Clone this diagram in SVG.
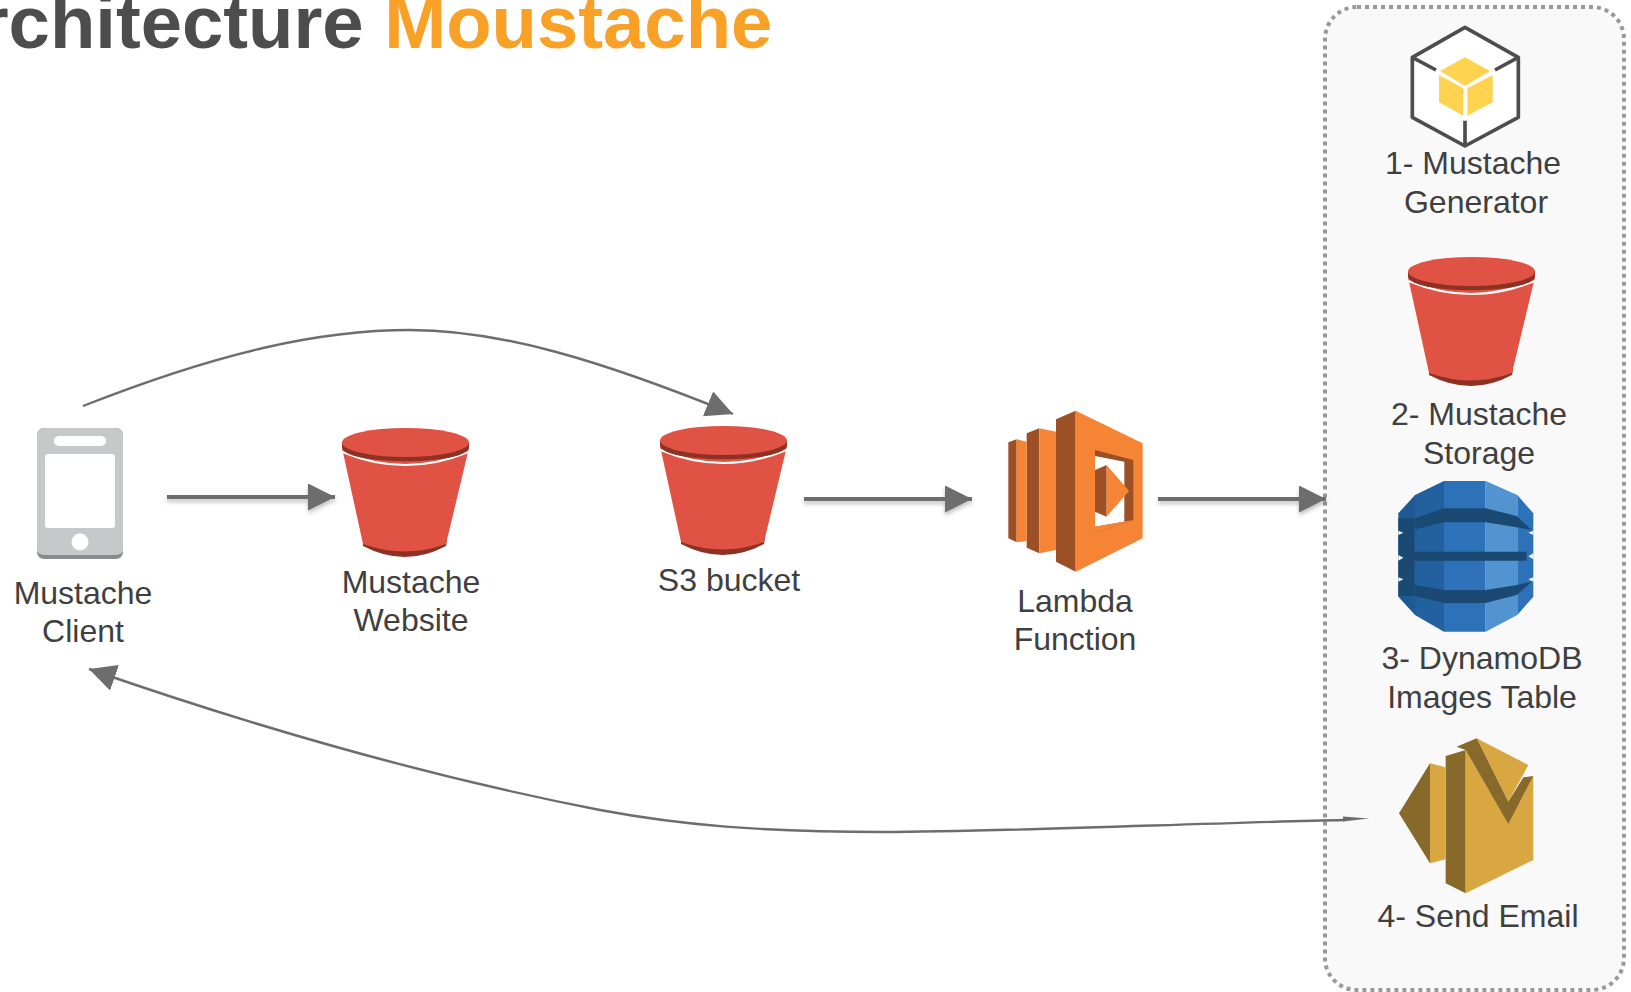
<svg xmlns="http://www.w3.org/2000/svg" xmlns:xlink="http://www.w3.org/1999/xlink" width="1631" height="992" viewBox="0 0 1631 992">
<style>
text{font-family:"Liberation Sans",Arial,sans-serif}
.lbl{font-size:32px;fill:#3f3f3f;text-anchor:middle}
.title{font-size:74.3px;font-weight:bold}
.conn{fill:none;stroke:#6d6d6d}
.straight{stroke-width:4;marker-end:url(#arrow);filter:url(#sh)}
.curve{stroke-width:2.400;marker-end:url(#arrow)}
</style>
<defs>
<marker id="arrow" markerUnits="userSpaceOnUse" markerWidth="27" markerHeight="27" viewBox="0 0 26 26" refX="26" refY="13" orient="auto"><path d="M0,0L26,13L0,26Z" fill="#6d6d6d"/></marker>
<filter id="sh" filterUnits="userSpaceOnUse" x="0" y="400" width="1631" height="200"><feDropShadow dx="0" dy="3" stdDeviation="2" flood-color="#000" flood-opacity=".25"/></filter>
<g id="bucket">
<path d="M21,112Q63,125 105,112L104,118Q63,140 21,118Z" fill="#8c3123"/>
<path d="M0,20L21,116Q63,131 104,116L127,20Z" fill="#e05243"/>
<path d="M0.500,24Q63,50 126.500,24" fill="none" stroke="#fff" stroke-width="2.200"/>
<path d="M0,14V19C0,38 127,38 127,19V14Z" fill="#8c3123"/>
<ellipse cx="63.500" cy="14.500" rx="63.500" ry="14.500" fill="#e05243"/>
</g>
</defs>
<text class="title" x="-74" y="48" fill="#4d4d4d">Architecture <tspan fill="#f9a127">Moustache</tspan></text>
<g id="group-panel"><rect x="1325" y="7" width="299" height="983" rx="32" fill="#f9f9f9" stroke="#999" stroke-width="4" stroke-dasharray="4 4"/></g>
<g id="connectors">
<path class="conn straight" d="M167,497H335"/>
<path class="conn straight" d="M804,499H972"/>
<path class="conn straight" d="M1158,499H1326"/>
<path class="conn curve" d="M83,406C220,352 320,330 410,330C500,330 600,360 733,414"/>
<path class="conn curve" d="M1345,820C1200,823 1000,832 884,832C760,832 680,825 600,810C420,775 250,725 89,669"/>
<path d="M1343,816.500L1369,818.500L1343,821.500Z" fill="#6d6d6d"/>
</g>
<g id="client">
<rect x="37" y="428" width="86" height="131" rx="7" fill="#8a8b8d"/>
<path d="M37,435a7,7 0 0 1 7,-7h72a7,7 0 0 1 7,7v115q0,4 -7,5h-72q-7,-1 -7,-5z" fill="#c7c8ca"/>
<rect x="54" y="436" width="52" height="10" rx="5" fill="#fff"/>
<rect x="45" y="454" width="70" height="74" rx="3" fill="#fff"/>
<circle cx="80" cy="542" r="8.500" fill="#fff"/>
<text class="lbl" x="83" y="604">Mustache</text><text class="lbl" x="83" y="642">Client</text>
</g>
<g id="website"><use href="#bucket" x="342" y="428"/>
<text class="lbl" x="411" y="593">Mustache</text><text class="lbl" x="411" y="631">Website</text></g>
<g id="s3"><use href="#bucket" x="660" y="426"/>
<text class="lbl" x="729" y="591">S3 bucket</text></g>
<g id="lambda">
<g transform="translate(960,380) scale(.33333)">
<path d="M145,187L170,178V487L145,475Z M200,160L238,145V520L200,503Z M288,118L347,92V575L288,545Z" fill="#9d5025"/>
<path d="M170,178L200,185V483L170,487Z M238,145L288,155V510L238,520Z" fill="#f58534"/>
<path d="M347,92L548,190V475L347,575Z" fill="#f58534"/>
<path d="M405,210L520,240V420L405,458Z" fill="#9d5025"/>
<path d="M405,228L493,245V425L405,440Z" fill="#fff"/>
<path d="M405,440L520,420L405,458Z" fill="#f58534"/>
<path d="M405,270L440,255V410L405,395Z" fill="#9d5025"/>
<path d="M440,255L507,333L440,410Z" fill="#f58534"/>
</g>
<text class="lbl" x="1075" y="612">Lambda</text><text class="lbl" x="1075" y="650">Function</text>
</g>
<g id="generator">
<g transform="translate(1310,0) scale(.33333)">
<path d="M465,82L625,172V352L465,438L307,352V172Z" fill="#fff" stroke="#4d4d4d" stroke-width="11" stroke-linejoin="round"/>
<path d="M307,172L378,210M625,172L555,210M465,438V362" fill="none" stroke="#4d4d4d" stroke-width="11"/>
<path d="M465,172L540,213L465,258L390,213Z M387,225L460,265V347L387,307Z M472,265L548,225V307L472,347Z" fill="#ffd34f"/>
</g>
<text class="lbl" x="1473" y="174">1- Mustache</text><text class="lbl" x="1476" y="213">Generator</text>
</g>
<g id="storage"><use href="#bucket" x="1408" y="257"/>
<text class="lbl" x="1479" y="425">2- Mustache</text><text class="lbl" x="1479" y="464">Storage</text></g>
<g id="dynamo">
<g transform="translate(1310,470) scale(.33333)">
<path d="M265,130L315,75V435L265,380Z" fill="#205a94"/>
<path d="M315,75L402,33V485L315,435Z" fill="#22609f"/>
<path d="M402,33H527V485H402Z" fill="#2d72b8"/>
<path d="M527,33L622,75V435L527,485Z" fill="#5294cf"/>
<path d="M622,75L670,130V380L622,435Z" fill="#2d72b8"/>
<path d="M315,145L402,115H527L620,138L665,180L620,172L527,157H402L315,178Z M312,245H650V272H312Z M315,345L402,360H527L620,345L665,335L620,375L527,399H402L315,378Z M265,145H313V378H265Z" fill="#1a4a73"/>
<path d="M265,182L280,188L265,195Z M265,255L280,263L265,272Z M265,322L280,328L265,335Z M670,182L655,188L670,195Z M670,250L655,259L670,268Z M670,322L655,328L670,335Z" fill="#f9f9f9"/>
</g>
<text class="lbl" x="1482" y="669">3- DynamoDB</text><text class="lbl" x="1482" y="708">Images Table</text>
</g>
<g id="email">
<g transform="translate(1310,720) scale(.33333)">
<path d="M267,280L360,130V430Z M407,108L467,90V520L407,490Z" fill="#876929"/>
<path d="M360,130L407,142V418L360,430Z M467,90L595,310L670,168V420L467,520Z M500,55L655,135L635,172L595,245Z" fill="#d9a741"/>
<path d="M440,80L500,55L595,245L640,172L670,168L595,312L467,90Z" fill="#876929"/>
</g>
<text class="lbl" x="1478" y="927">4- Send Email</text>
</g>
</svg>
